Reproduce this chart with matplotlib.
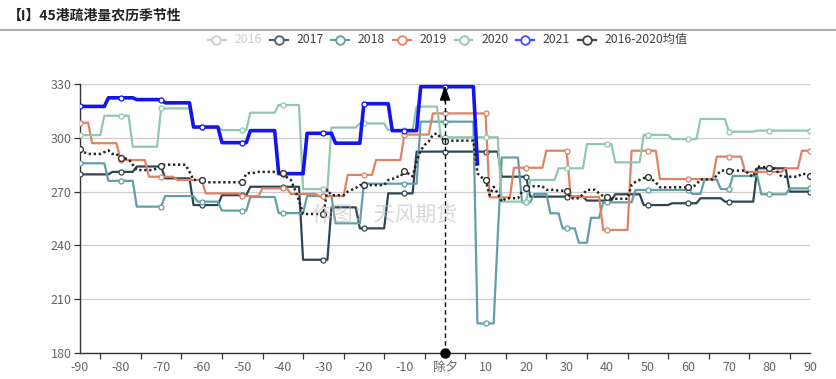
import numpy as np
import matplotlib
matplotlib.use('Agg')
import matplotlib.pyplot as plt
from matplotlib.lines import Line2D

plt.rcParams['font.family'] = ['Noto Sans CJK SC', 'DejaVu Sans']

# ---------------- data ----------------
title = '【I】45港疏港量农历季节性'
legend_names = ['2016', '2017', '2018', '2019', '2020', '2021', '2016-2020均值']
x_tick_values = list(range(-90, 91, 10))
x_tick_labels = ['除夕' if v == 0 else str(v) for v in x_tick_values]
y_ticks = [180, 210, 240, 270, 300, 330]
watermark = '作图：天风期货'
marker_day = 0  # 除夕

# (start_day, value): value holds from start_day until the next start_day
s2017 = [(-90, 279.6), (-82, 281), (-76, 284), (-69, 277.4), (-62, 262.5), (-55, 268),
         (-48, 272.7), (-35, 232), (-28, 261.2), (-21, 249.5), (-14, 269), (-7, 292.3),
         (14, 278.3), (21, 267.2), (35, 265), (42, 268.5), (49, 262.5), (56, 263.5),
         (63, 266.3), (69, 264.4), (77, 283), (85, 270)]
s2018 = [(-90, 285.8), (-83, 276), (-76, 261.6), (-69, 267.5), (-61, 264.4), (-55, 259.4),
         (-48, 267), (-41, 258), (-34, 267.5), (-27, 252.3), (-20, 274.4), (-6, 309),
         (8, 196.5), (13, 245), (14, 289), (19, 264), (22, 268.7), (26, 257.9), (29, 249.5),
         (33, 241.5), (36, 255.4), (39, 264), (47, 270.9), (61, 268.7), (64, 276.8),
         (68, 271.4), (71, 278.7), (78, 268.5), (85, 271.8)]
s2019 = [(-90, 308.4), (-87, 297), (-80, 287.6), (-73, 278.3), (-66, 276.5), (-59, 269),
         (-50, 267.5), (-45, 271.8), (-38, 268.7), (-31, 267.5), (-24, 279.3), (-17, 287.6),
         (-10, 301.8), (-3, 313.6), (11, 266.8), (17, 283.3), (25, 292.8), (31, 267),
         (39, 248.6), (46, 292.8), (53, 277), (67, 289.5), (74, 281), (84, 283), (88, 292.8)]
s2020 = [(-90, 301.5), (-84, 312.3), (-77, 295), (-70, 316.4), (-62, 306), (-55, 304.3),
         (-48, 314), (-41, 318.3), (-35, 271.4), (-28, 305.7), (-21, 308), (-14, 304.3),
         (-7, 317.4), (-1, 300.3), (14, 264.4), (21, 276.5), (28, 283), (35, 296.5),
         (42, 286.3), (49, 301.6), (56, 299.3), (63, 310.5), (70, 303.4), (77, 304)]
s2021 = [(-90, 317.5), (-83, 322.3), (-76, 321.3), (-69, 319.5), (-62, 306), (-55, 297.3),
         (-48, 304), (-41, 280), (-34, 302.5), (-27, 297), (-20, 319), (-13, 304),
         (-6, 328.5), (8, 285.5)]
s2021_last_day = 8
s_mean = [(-90, 293.6), (-89, 292), (-88, 291), (-84, 292), (-83, 293), (-82, 291),
          (-80, 288.6), (-78, 288), (-77, 285), (-76, 282), (-71, 283), (-70, 284.3),
          (-69, 285), (-63, 281), (-62, 276.5), (-59, 275.2), (-49, 280), (-48, 280.5),
          (-46, 281), (-40, 280.2), (-39, 278), (-38, 276.5), (-37, 271), (-36, 265),
          (-35, 257.5), (-29, 271), (-28, 268), (-24, 270), (-23, 271), (-22, 272),
          (-21, 273.6), (-14, 276.5), (-13, 277), (-12, 278.3), (-10, 281.7), (-9, 280),
          (-8, 278.5), (-7, 287), (-6, 293), (-5, 296), (-4, 298), (-3, 301.6), (-2, 302.5),
          (-1, 299.7), (0, 298.4), (8, 280.2), (9, 278), (10, 276.5), (11, 268), (12, 272.7),
          (13, 269), (14, 264.4), (15, 266.3), (19, 270), (20, 271.8), (21, 273), (25, 271),
          (28, 270.5), (31, 266.3), (34, 268.5), (35, 271), (38, 269), (39, 267.5),
          (40, 267.2), (41, 266), (46, 273.7), (47, 275.5), (48, 276.5), (49, 277.5),
          (50, 278), (51, 277), (52, 275), (53, 272.4), (62, 274), (63, 276.8), (67, 279),
          (68, 281.7), (75, 279.5), (76, 278.3), (77, 283.9), (79, 283.5), (80, 283),
          (82, 281), (83, 278.3), (88, 280), (89, 279.7), (90, 278.5)]

days = np.arange(-90, 91)


def expand(steps, last_day=90):
    vals = np.full(days.shape, np.nan)
    for i, (start, v) in enumerate(steps):
        stop = steps[i + 1][0] - 1 if i + 1 < len(steps) else last_day
        vals[(days >= start) & (days <= stop)] = v
    return vals


colors = {'2016': '#cccccc', '2017': '#2f4554', '2018': '#61a0a8', '2019': '#de8465',
          '2020': '#91c7ae', '2021': '#1414f0', '2016-2020均值': '#222222'}
legend_icon_colors = dict(colors)
legend_icon_colors['2021'] = '#4b4bff'
legend_icon_colors['2017'] = '#4a5f70'
legend_icon_colors['2016-2020均值'] = '#444444'

# ---------------- figure ----------------
W, H = 836, 379
fig = plt.figure(figsize=(W / 100, H / 100), dpi=100)
ax = fig.add_axes([80 / W, (H - 353) / H, 730 / W, 269 / H])

mk = list(range(0, len(days), 10))
plot_specs = [('2017', s2017, 90, 1.6), ('2018', s2018, 90, 1.6), ('2019', s2019, 90, 1.6),
              ('2020', s2020, 90, 1.6), ('2021', s2021, s2021_last_day, 2.6)]
for z, (name, steps, last, lw) in enumerate(plot_specs):
    ax.plot(days, expand(steps, last), color=colors[name], lw=lw, marker='o',
            markevery=mk, ms=3.6, mfc='white', mec=colors[name], mew=0.9,
            zorder=3 + z, solid_joinstyle='round')

mean_line, = ax.plot(days, expand(s_mean), color=colors['2016-2020均值'], lw=1.8,
                     marker='o', markevery=mk, ms=4.2, mfc='white',
                     mec='#333333', mew=1.0, zorder=10)
mean_line.set_dashes((0.9, 1.1))

# marker line at 除夕
ax.plot([marker_day, marker_day], [180, 323], color='black', lw=1,
        dashes=(3.2, 2.4), zorder=11)
ax.annotate('', xy=(marker_day, 329.2), xytext=(marker_day, 320),
            arrowprops=dict(arrowstyle='-|>,head_length=0.9,head_width=0.32',
                            color='black', lw=1, shrinkA=0, shrinkB=0), zorder=12)
ax.plot([marker_day], [180], 'o', color='black', ms=6.5, clip_on=False, zorder=12)

# axes styling
ax.set_xlim(-90, 90)
ax.set_ylim(180, 330)
ax.set_yticks(y_ticks)
ax.set_xticks(x_tick_values)
ax.set_xticklabels(x_tick_labels)
ax.set_xticks(list(range(-85, 90, 10)), minor=True)
ax.tick_params(axis='x', which='major', length=0, pad=6, labelsize=9, labelcolor='#666666')
ax.tick_params(axis='x', which='minor', length=4, width=0.9, color='#333333', direction='out')
ax.tick_params(axis='y', which='major', length=4, width=0.9, color='#333333', pad=2,
               labelsize=9, labelcolor='#666666')
ax.grid(axis='y', color='#cccccc', lw=0.9, zorder=0)
ax.set_axisbelow(True)
for s in ['top', 'right']:
    ax.spines[s].set_visible(False)
for s in ['left', 'bottom']:
    ax.spines[s].set_color('#333333')
    ax.spines[s].set_linewidth(1.0)

# watermark
ax.text(0.417, 0.515, watermark, transform=ax.transAxes, fontsize=15,
        color='#bdbdbd', alpha=0.6, ha='center', va='center', zorder=20)

# title and separator
fig.text(8 / W, 1 - 16 / H, title, fontsize=10, fontweight='bold', color='#222222',
         ha='left', va='center')
fig.add_artist(Line2D([0, 1], [1 - 29.5 / H] * 2, color='#b0b0b0', lw=1.5,
                      transform=fig.transFigure))

# legend (manual)
icon_centers = [216.5, 278.5, 340, 401.5, 463.5, 525, 586.5]
ly = 1 - 39.5 / H
for name, cx in zip(legend_names, icon_centers):
    c = legend_icon_colors[name]
    fig.add_artist(Line2D([(cx - 9) / W, (cx + 9) / W], [ly, ly], color=c, lw=1.6,
                          transform=fig.transFigure))
    fig.add_artist(Line2D([cx / W], [ly], marker='o', ms=6.2, mfc='white', mec=c,
                          mew=1.3, transform=fig.transFigure))
    fig.text((cx + 18) / W, ly, name, fontsize=8.8,
             color='#cccccc' if name == '2016' else '#444444', ha='left', va='center')

fig.savefig('out.png', dpi=100)
